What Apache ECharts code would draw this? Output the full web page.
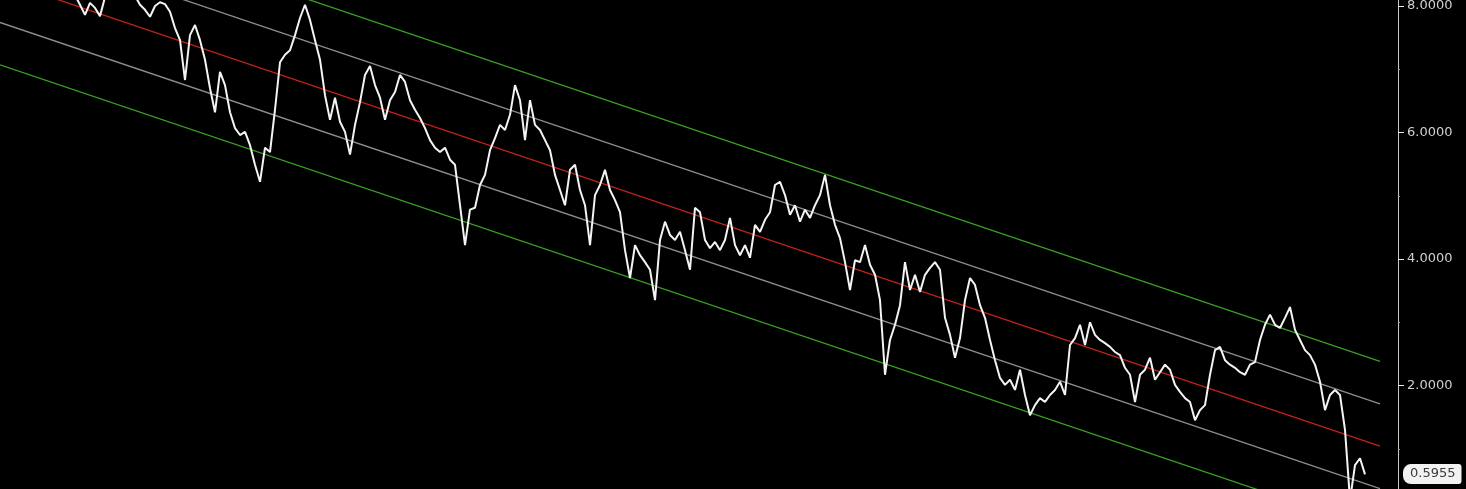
<!DOCTYPE html>
<html><head><meta charset="utf-8">
<script src="https://cdn.jsdelivr.net/npm/echarts@6/dist/echarts.min.js"></script>
<style>html,body{margin:0;padding:0;background:#000;}#c{width:1466px;height:489px;}</style>
</head><body><div id="c"></div>
<script>
// bar index of the first price
const startBar = 12;
// closing prices, one per bar
const prices = [
8.33,8.25,8.22,8.17,8.02,7.86,8.05,7.97,7.84,8.14,
8.25,8.28,8.22,8.25,8.19,8.16,8.02,7.94,7.83,8.00,
8.06,8.03,7.91,7.65,7.46,6.83,7.54,7.70,7.46,7.15,
6.70,6.32,6.96,6.75,6.32,6.07,5.96,6.01,5.80,5.49,
5.22,5.76,5.69,6.36,7.11,7.23,7.30,7.54,7.81,8.02,
7.78,7.46,7.15,6.59,6.20,6.55,6.17,6.01,5.65,6.12,
6.48,6.91,7.05,6.75,6.55,6.20,6.51,6.64,6.91,6.80,
6.51,6.36,6.23,6.07,5.88,5.76,5.69,5.76,5.57,5.49,
4.85,4.22,4.78,4.81,5.17,5.33,5.72,5.91,6.12,6.04,
6.28,6.75,6.51,5.88,6.51,6.12,6.04,5.88,5.72,5.33,
5.09,4.85,5.41,5.49,5.09,4.85,4.22,5.01,5.17,5.41,
5.09,4.93,4.74,4.14,3.70,4.22,4.06,3.95,3.83,3.35,
4.30,4.59,4.38,4.30,4.43,4.14,3.83,4.81,4.74,4.30,
4.17,4.27,4.14,4.30,4.65,4.22,4.06,4.22,4.02,4.54,
4.43,4.62,4.74,5.17,5.22,5.01,4.70,4.85,4.59,4.78,
4.65,4.85,5.01,5.33,4.85,4.54,4.33,3.95,3.51,3.98,
3.95,4.22,3.91,3.75,3.35,2.17,2.72,2.96,3.27,3.95,
3.51,3.75,3.48,3.75,3.86,3.95,3.83,3.07,2.80,2.44,
2.75,3.35,3.70,3.59,3.27,3.07,2.72,2.40,2.12,2.01,
2.09,1.93,2.25,1.85,1.53,1.69,1.80,1.74,1.85,1.93,
2.06,1.85,2.64,2.75,2.96,2.64,3.00,2.80,2.72,2.67,
2.61,2.53,2.48,2.28,2.17,1.74,2.17,2.25,2.44,2.09,
2.21,2.33,2.25,2.01,1.90,1.80,1.74,1.45,1.61,1.69,
2.17,2.56,2.61,2.40,2.33,2.28,2.21,2.17,2.33,2.37,
2.72,2.96,3.12,2.96,2.91,3.07,3.24,2.88,2.72,2.56,
2.48,2.33,2.06,1.61,1.85,1.93,1.85,1.30,0.19,0.74,
0.85,0.5955
];
// regression channel
const channelStartBar = 0;
const channelEndBar = 276;
const channelStart = 8.41;
const channelEnd = 1.04;
const channelSigma = 0.67;
const channelMultiples = [2, 1, 0, -1, -2];
const yLabelValues = [2, 4, 6, 8];

const channelColors = {2: '#38a022', 1: '#8e8e8e', 0: '#c0231a', '-1': '#8e8e8e', '-2': '#38a022'};

const priceData = prices.map((v, k) => [startBar + k, v]);
const lastValue = prices[prices.length - 1];

const series = channelMultiples.map(m => ({
  type: 'line',
  data: [[channelStartBar, channelStart + m * channelSigma], [channelEndBar, channelEnd + m * channelSigma]],
  symbol: 'none',
  silent: true,
  clip: false,
  lineStyle: {color: channelColors[m], width: 1.3},
  z: 2
}));
series.push({
  type: 'line',
  data: priceData,
  symbol: 'none',
  clip: false,
  lineStyle: {color: '#f4f4f4', width: 2},
  z: 5,
  markLine: {
    silent: true,
    symbol: 'none',
    lineStyle: {color: 'rgba(0,0,0,0)', width: 0},
    data: [{yAxis: lastValue}],
    label: {
      show: true,
      position: 'end',
      distance: 5,
      formatter: () => lastValue.toFixed(4),
      color: '#3a3a3a',
      backgroundColor: '#f2f2f2',
      borderRadius: [8, 3, 3, 8],
      padding: [4, 6, 3, 7],
      fontFamily: 'DejaVu Sans',
      fontSize: 13
    }
  }
});

const chart = echarts.init(document.getElementById('c'), null, {renderer: 'canvas'});
chart.setOption({
  backgroundColor: '#000000',
  animation: false,
  grid: {left: 0, top: 0, width: 1398, height: 512, containLabel: false, outerBoundsMode: 'none'},
  xAxis: {type: 'value', min: 0, max: 279.6, show: false},
  yAxis: {
    type: 'value', position: 'right', min: 0, max: 8.0949, interval: 2,
    axisLine: {show: true, onZero: false, lineStyle: {color: '#c8c8c8', width: 1}},
    axisTick: {show: true, length: 6, customValues: yLabelValues, lineStyle: {color: '#e8e8e8'}},
    minorTick: {show: true, splitNumber: 2, length: 2, lineStyle: {color: '#9a9a9a'}},
    splitLine: {show: false},
    axisLabel: {
      customValues: yLabelValues,
      color: '#d0d0d0', fontFamily: 'DejaVu Sans', fontSize: 13, margin: 9,
      formatter: v => v.toFixed(4)
    }
  },
  series: series
});
</script>
</body></html>
